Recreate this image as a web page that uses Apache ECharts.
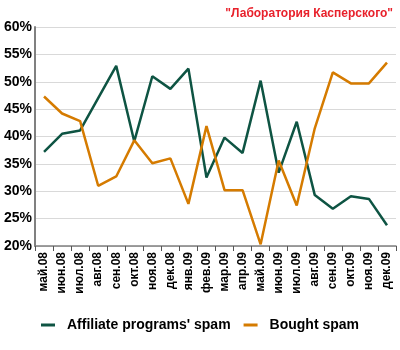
<!DOCTYPE html>
<html><head><meta charset="utf-8">
<script src="https://cdn.jsdelivr.net/npm/echarts@6/dist/echarts.min.js"></script>
<style>html,body{margin:0;padding:0;background:#fff}#c{width:400px;height:350px}</style>
</head><body><div id="c"></div>
<script>
const categories = ['май.08','июн.08','июл.08','авг.08','сен.08','окт.08','ноя.08','дек.08','янв.09','фев.09','мар.09','апр.09','май.09','июн.09','июл.09','авг.09','сен.09','окт.09','ноя.09','дек.09'];
const affiliateSpam = [37.2,40.5,41.1,47.0,52.9,39.1,51.0,48.7,52.4,32.5,39.8,37.0,50.2,33.4,42.7,29.3,26.8,29.1,28.6,23.8];
const boughtSpam = [47.3,44.2,42.8,31.0,32.7,39.3,35.1,36.0,27.7,41.9,30.2,30.2,20.3,35.6,27.4,41.5,51.7,49.7,49.7,53.5];
const seriesNames = ["Affiliate programs' spam", 'Bought spam'];
const titleText = '"Лаборатория Касперского"';

const chart = echarts.init(document.getElementById('c'));
const font = 'Liberation Sans, Arial, sans-serif';
chart.setOption({
  animation: false,
  textStyle: {fontFamily: font},
  title: {text: titleText, right: 2, top: 3, textStyle: {color: '#e8212b', fontSize: 12, fontWeight: 'bold', fontFamily: font}},
  grid: {left: 35, right: 4, top: 27, bottom: 104, containLabel: false},
  legend: {bottom: 13, left: 'center', itemWidth: 14, itemHeight: 3, icon: 'rect', itemGap: 13,
    textStyle: {fontSize: 14, fontWeight: 'bold', color: '#000', fontFamily: font, padding: [0, 0, 0, 7]},
    data: seriesNames},
  xAxis: {type: 'category', data: categories, boundaryGap: true,
    axisLine: {lineStyle: {color: '#808080', width: 1.5}},
    axisTick: {show: true, length: 5, lineStyle: {color: '#555'}, alignWithLabel: false},
    axisLabel: {rotate: 90, interval: 0, fontSize: 12, fontWeight: 'bold', color: '#000', margin: 6, fontFamily: font}},
  yAxis: {type: 'value', min: 20, max: 60, interval: 5,
    axisLine: {show: true, lineStyle: {color: '#808080', width: 2}},
    axisTick: {show: false},
    splitLine: {lineStyle: {color: '#d9d9d9', width: 1}},
    axisLabel: {formatter: '{value}%', fontSize: 14, fontWeight: 'bold', color: '#000', margin: 3, fontFamily: font}},
  series: [
    {name: seriesNames[0], type: 'line', data: affiliateSpam, showSymbol: false, symbol: 'none',
     lineStyle: {color: '#0e5443', width: 2.5}, itemStyle: {color: '#0e5443'}},
    {name: seriesNames[1], type: 'line', data: boughtSpam, showSymbol: false, symbol: 'none',
     lineStyle: {color: '#d57b00', width: 2.5}, itemStyle: {color: '#d57b00'}}
  ]
});
</script></body></html>
